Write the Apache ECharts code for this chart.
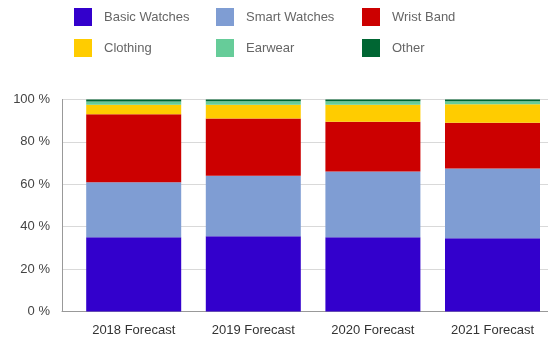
<!DOCTYPE html>
<html>
<head>
<meta charset="utf-8">
<script src="https://cdn.jsdelivr.net/npm/echarts@6/dist/echarts.min.js"></script>
<style>
  html, body { margin: 0; padding: 0; background: #fff; }
  #chart { width: 548px; height: 338px; }
</style>
</head>
<body>
<div id="chart"></div>
<script>
// Wearables market share forecast by product type (percent of total)
const categories = ['2018 Forecast', '2019 Forecast', '2020 Forecast', '2021 Forecast'];
const basicWatches = [35, 35.5, 35, 34.5];
const smartWatches = [26, 28.5, 31, 33];
const wristBand = [32, 27, 23.5, 21.5];
const clothing = [4.5, 6.5, 8, 8.8];
const earwear = [1.5, 1.7, 1.7, 1.4];
const other = [1, 0.8, 0.8, 0.8];
const yTicks = [0, 20, 40, 60, 80, 100];

const seriesDefs = [
  { name: 'Basic Watches', data: basicWatches, color: '#3300cc' },
  { name: 'Smart Watches', data: smartWatches, color: '#7f9dd3' },
  { name: 'Wrist Band', data: wristBand, color: '#cc0000' },
  { name: 'Clothing', data: clothing, color: '#ffcc00' },
  { name: 'Earwear', data: earwear, color: '#66cc99' },
  { name: 'Other', data: other, color: '#006633' }
];

// legend laid out as a 3 x 2 block
const legendPos = [
  { left: 74, top: 8 }, { left: 216, top: 8 }, { left: 362, top: 8 },
  { left: 74, top: 39 }, { left: 216, top: 39 }, { left: 362, top: 39 }
];

const chart = echarts.init(document.getElementById('chart'), null, { renderer: 'canvas' });
const font = 'Liberation Sans, Arial, sans-serif';

chart.setOption({
  animation: false,
  textStyle: { fontFamily: font },
  legend: seriesDefs.map((s, i) => ({
    data: [s.name],
    left: legendPos[i].left,
    top: legendPos[i].top,
    padding: 0,
    icon: 'rect',
    itemWidth: 18,
    itemHeight: 18,
    selectedMode: false,
    textStyle: { fontSize: 13, color: '#666', fontFamily: font, padding: [2, 0, 0, 7] }
  })),
  grid: [
    // frame: y axis line, gridlines and baseline
    { left: 62, right: 0, top: 99.5, bottom: 26.5 },
    // bars: category points sit at the first and last bar centres
    { left: 133.7, right: 55.5, top: 99.5, bottom: 26.5 }
  ],
  xAxis: [
    {
      gridIndex: 0, type: 'category', data: categories,
      axisLine: { lineStyle: { color: '#999' } },
      axisTick: { show: false }, axisLabel: { show: false }
    },
    {
      gridIndex: 1, type: 'category', data: categories, boundaryGap: false,
      axisLine: { show: false },
      axisTick: { show: false },
      axisLabel: { fontSize: 13, color: '#333', margin: 12, fontFamily: font }
    }
  ],
  yAxis: [
    {
      gridIndex: 0, type: 'value', min: yTicks[0], max: yTicks[yTicks.length - 1], interval: 20,
      axisLine: { show: true, lineStyle: { color: '#999' } },
      axisTick: { show: false },
      splitLine: { lineStyle: { color: '#d9d9d9' } },
      axisLabel: { fontSize: 13, color: '#444', margin: 12, formatter: v => v + ' %', fontFamily: font }
    },
    {
      gridIndex: 1, type: 'value', min: 0, max: 100, interval: 20,
      axisLine: { show: false }, axisTick: { show: false },
      splitLine: { show: false }, axisLabel: { show: false }
    }
  ],
  series: seriesDefs.map(s => ({
    name: s.name,
    type: 'bar',
    stack: 'share',
    xAxisIndex: 1,
    yAxisIndex: 1,
    barWidth: 95,
    clip: false,
    data: s.data,
    itemStyle: { color: s.color }
  }))
});
</script>
</body>
</html>
